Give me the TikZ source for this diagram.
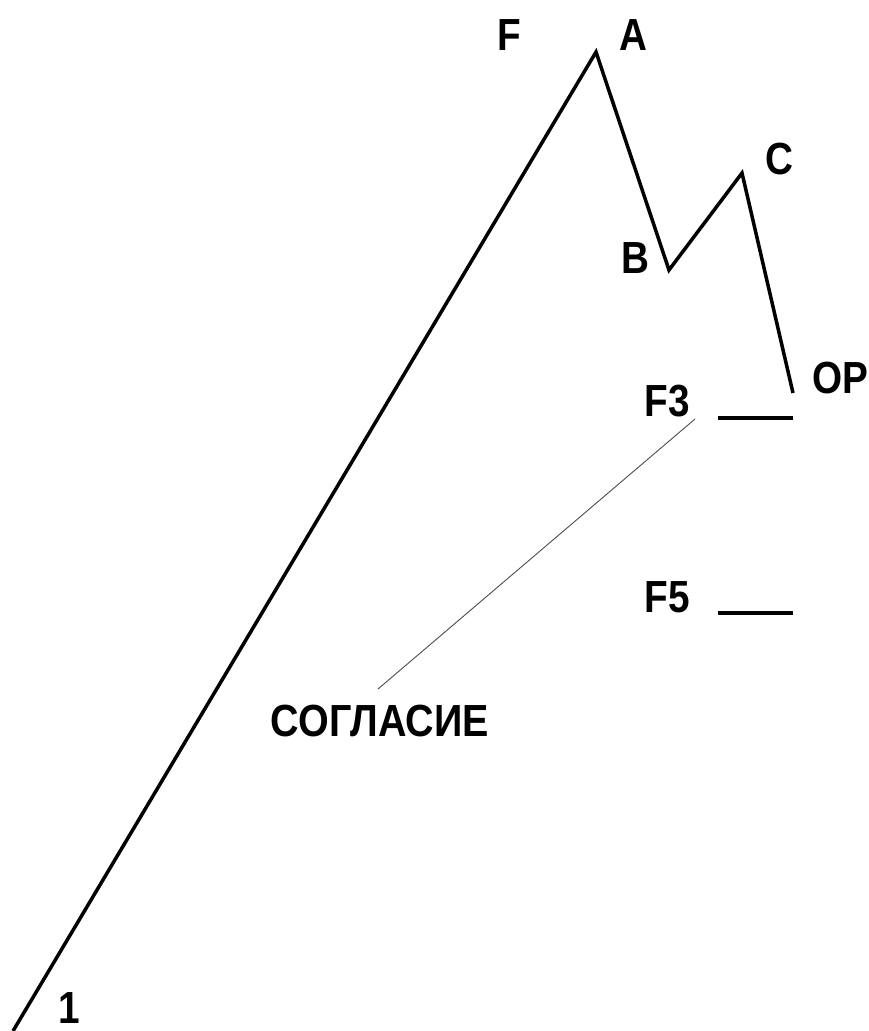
\documentclass[tikz,border=0pt]{standalone}
\usepackage{fontspec}
\setmainfont{Liberation Sans}
\begin{document}
\begin{tikzpicture}[x=1pt,y=-1pt,
  lbl/.style={font=\fontsize{45}{45}\selectfont\bfseries, inner sep=0pt, anchor=center, xscale=0.86},
  wave/.style={line width=3.5pt, line join=miter, black},
  level/.style={line width=3.2pt, black},
  thin/.style={line width=0.9pt, black!70}]
\useasboundingbox (0,0) rectangle (868,1031);
\coordinate (p0) at (13,1031);
\coordinate (pA) at (596,52);
\coordinate (pB) at (669,270);
\coordinate (pC) at (742,173);
\coordinate (pOP) at (793,393);
\coordinate (f3a) at (718,418);
\coordinate (f3b) at (793,418);
\coordinate (f5a) at (718,613);
\coordinate (f5b) at (793,613);
\coordinate (ta) at (695,419);
\coordinate (tb) at (378,689);
\draw[wave] (p0) -- (pA) -- (pB) -- (pC) -- (pOP);
\draw[level] (f3a) -- (f3b);
\draw[level] (f5a) -- (f5b);
\draw[thin] (ta) -- (tb);
\node[lbl] (lF) at (509,35) {F};
\node[lbl] (lA) at (633,35) {A};
\node[lbl] (lC) at (779,159) {C};
\node[lbl] (lB) at (635,258) {B};
\node[lbl] (lOP) at (840,378) {OP};
\node[lbl] (lF3) at (667,401) {F3};
\node[lbl] (lF5) at (667,597) {F5};
\node[lbl] (l1) at (69,1008) {1};
\node[lbl, xscale=1.02] (lS) at (380,721) {СОГЛАСИЕ};
\end{tikzpicture}
\end{document}
